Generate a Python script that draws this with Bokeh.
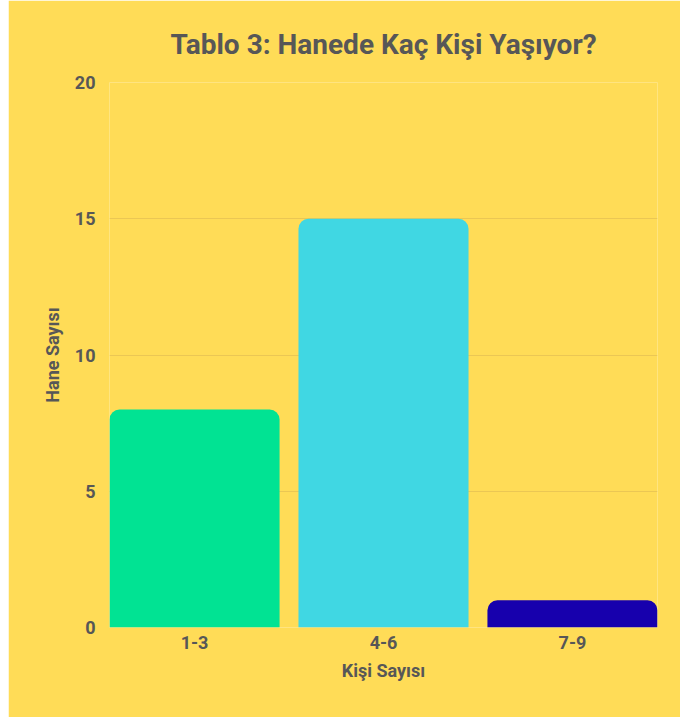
from bokeh.plotting import figure
from bokeh.models import ColumnDataSource, FactorRange, Spacer
from bokeh.layouts import row
from bokeh.embed import file_html
from bokeh.resources import INLINE

categories = ["1-3", "4-6", "7-9"]
values = [8, 15, 1]
colors = ["#01E393", "#40D7E3", "#1700AD"]
y_ticks = [0, 5, 10, 15, 20]

title_text = "Tablo 3: Hanede Kaç Kişi Yaşıyor?"
x_title = "Kişi Sayısı"
y_title = "Hane Sayısı"

BG = "#FFDC57"
TXT = "#575757"
FONT = "Roboto"

source = ColumnDataSource(data=dict(cat=categories, val=values, color=colors))

x_range = FactorRange(factors=categories, range_padding=-0.05, range_padding_units="absolute")

p = figure(
    x_range=x_range, y_range=(0, 20),
    width=672, height=717,
    frame_width=548, frame_height=545,
    min_border_left=101, min_border_right=23, min_border_top=82, min_border_bottom=90,
    output_backend="svg", toolbar_location=None,
    background_fill_color=BG, border_fill_color=BG,
    title=title_text,
)

p.vbar(x="cat", top="val", width=0.9, fill_color="color", line_color=None,
       border_radius=(10, 10, 0, 0), source=source)

p.title.align = "center"
p.title.text_font = FONT
p.title.text_font_size = "28px"
p.title.text_font_style = "bold"
p.title.text_color = TXT
p.title.standoff = 43

p.outline_line_color = None
p.xgrid.grid_line_color = None
p.ygrid.grid_line_color = "#EBC754"
p.ygrid.grid_line_width = 1.2
p.yaxis.ticker = y_ticks

for ax in (p.xaxis[0], p.yaxis[0]):
    ax.axis_line_color = None
    ax.major_tick_line_color = None
    ax.minor_tick_line_color = None
    ax.major_tick_out = 0
    ax.major_tick_in = 0
    ax.major_label_text_font = FONT
    ax.major_label_text_font_size = "18px"
    ax.major_label_text_font_style = "bold"
    ax.major_label_text_color = TXT
    ax.axis_label_text_font = FONT
    ax.axis_label_text_font_size = "18px"
    ax.axis_label_text_font_style = "bold"
    ax.axis_label_text_color = TXT

p.xaxis.axis_label = x_title
p.yaxis.axis_label = y_title
p.yaxis.major_label_standoff = 14
p.yaxis.axis_label_standoff = 9
p.xaxis.major_label_standoff = 8
p.xaxis.axis_label_standoff = 8

layout = row(Spacer(width=8, height=717), p)

open("out.html", "w").write(file_html(layout, INLINE))
